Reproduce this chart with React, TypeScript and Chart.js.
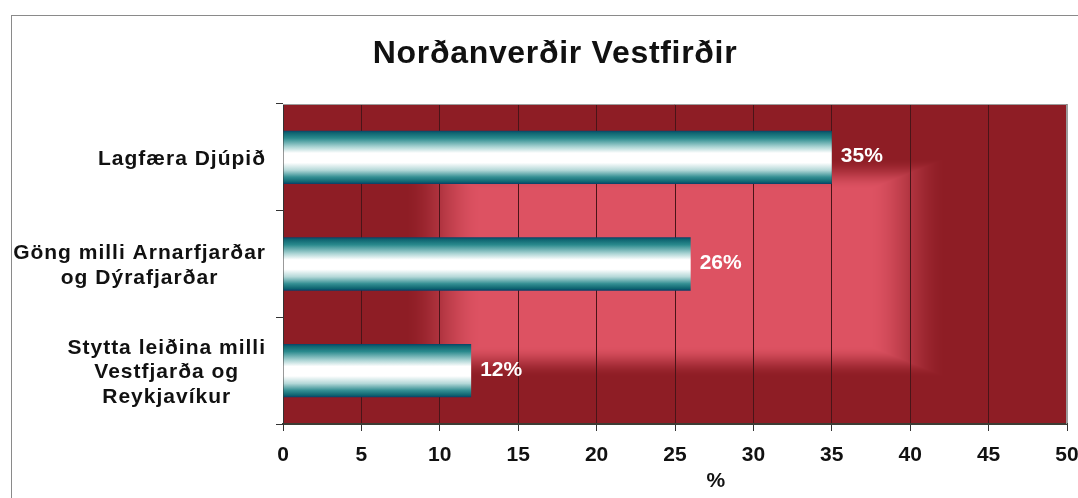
import { useEffect, useRef } from 'react';
import { Chart, registerables } from 'chart.js';

Chart.register(...registerables);

const TITLE = 'Norðanverðir Vestfirðir';
const categories: string[][] = [
  ['Lagfæra Djúpið'],
  ['Göng milli Arnarfjarðar', 'og Dýrafjarðar'],
  ['Stytta leiðina milli', 'Vestfjarða og', 'Reykjavíkur'],
];
const values: number[] = [35, 26, 12];
const valueLabels: string[] = ['35%', '26%', '12%'];
const X_MIN = 0;
const X_MAX = 50;
const X_STEP = 5;
const AXIS_TITLE = '%';
const AXIS_TITLE_VALUE = 27.6;

const FONT = '"Liberation Sans", Arial, sans-serif';
const BAR_PCT = 0.5;
const DARK = [142, 29, 37];
const LIGHT = [221, 82, 98];

function smoothstep(a: number, b: number, t: number) {
  const x = Math.min(1, Math.max(0, (t - a) / (b - a)));
  return x * x * (3 - 2 * x);
}

const backgroundPlugin = {
  id: 'plotBackground',
  beforeDraw(chart: any) {
    const { ctx, chartArea: a } = chart;
    if (!a) return;
    const w = Math.round(a.right - a.left);
    const h = Math.round(a.bottom - a.top);
    const off = document.createElement('canvas');
    off.width = w;
    off.height = h;
    const octx = off.getContext('2d')!;
    const img = octx.createImageData(w, h);
    const cx = 0.5 * w, cy = 0.51 * h, hw = 0.293 * w, hh = 0.29 * h;
    for (let y = 0; y < h; y++) {
      for (let x = 0; x < w; x++) {
        const dx = Math.abs(x - cx) / hw;
        const dy = Math.abs(y - cy) / hh;
        const t = Math.max(dx, dy);
        const f = smoothstep(0.84, 1.18, t);
        const i = (y * w + x) * 4;
        img.data[i] = LIGHT[0] * (1 - f) + DARK[0] * f;
        img.data[i + 1] = LIGHT[1] * (1 - f) + DARK[1] * f;
        img.data[i + 2] = LIGHT[2] * (1 - f) + DARK[2] * f;
        img.data[i + 3] = 255;
      }
    }
    octx.putImageData(img, 0, 0);
    ctx.save();
    ctx.drawImage(off, a.left, a.top);
    ctx.strokeStyle = '#8a8a8a';
    ctx.lineWidth = 1;
    ctx.strokeRect(11.5, 15.5, chart.width + 20, chart.height + 20);
    ctx.restore();
  },
  beforeDatasetsDraw(chart: any) {
    const { ctx, chartArea: a } = chart;
    ctx.save();
    ctx.strokeStyle = '#9c9c9c';
    ctx.lineWidth = 1;
    ctx.beginPath();
    ctx.moveTo(a.left, a.top + 0.5);
    ctx.lineTo(a.right - 0.5, a.top + 0.5);
    ctx.lineTo(a.right - 0.5, a.bottom);
    ctx.stroke();
    ctx.restore();
  },
  afterDatasetsDraw(chart: any) {
    const { ctx } = chart;
    const meta = chart.getDatasetMeta(0);
    ctx.save();
    ctx.fillStyle = '#ffffff';
    ctx.font = `bold 21px ${FONT}`;
    (ctx as any).letterSpacing = '0px';
    ctx.textAlign = 'left';
    ctx.textBaseline = 'alphabetic';
    meta.data.forEach((el: any, i: number) => {
      ctx.fillText(valueLabels[i], el.x + 9, el.y + 5);
    });
    ctx.restore();
  },
  afterDraw(chart: any) {
    const { ctx, chartArea: a } = chart;
    const ys = chart.scales.y;
    const xs = chart.scales.x;
    ctx.save();
    ctx.fillStyle = '#111111';
    ctx.font = `bold 32px ${FONT}`;
    (ctx as any).letterSpacing = '0.7px';
    ctx.textAlign = 'center';
    ctx.textBaseline = 'alphabetic';
    ctx.fillText(TITLE, 555, 63);
    ctx.font = `bold 21px ${FONT}`;
    (ctx as any).letterSpacing = '1px';
    const right = a.left - 17;
    const lineH = 24.5;
    categories.forEach((lines, i) => {
      const c = ys.getPixelForValue(i);
      const bw = Math.max(...lines.map((l) => ctx.measureText(l).width));
      const cxp = right - bw / 2;
      lines.forEach((l, j) => {
        const yy = c + (j - (lines.length - 1) / 2) * lineH + 7.5;
        ctx.fillText(l, cxp, yy);
      });
    });
    ctx.font = `bold 21px ${FONT}`;
    (ctx as any).letterSpacing = '0px';
    ctx.textBaseline = 'middle';
    ctx.fillText(AXIS_TITLE, xs.getPixelForValue(AXIS_TITLE_VALUE), 481);
    ctx.restore();
  },
};

function barGradient(c: any) {
  const chart = c.chart;
  const ys = chart.scales && chart.scales.y;
  if (!ys || !chart.chartArea) return '#ffffff';
  const center = ys.getPixelForValue(c.dataIndex);
  const half = (ys.height / categories.length) * BAR_PCT / 2;
  const g = chart.ctx.createLinearGradient(0, center - half, 0, center + half);
  g.addColorStop(0, '#0b4268');
  g.addColorStop(0.04, '#0e6470');
  g.addColorStop(0.14, '#2a8a8d');
  g.addColorStop(0.3, '#a8d2d2');
  g.addColorStop(0.42, '#ffffff');
  g.addColorStop(0.6, '#ffffff');
  g.addColorStop(0.74, '#b4d8d8');
  g.addColorStop(0.87, '#348f93');
  g.addColorStop(0.96, '#0e6470');
  g.addColorStop(1, '#0a3d68');
  return g;
}

export default function App() {
  const ref = useRef<HTMLCanvasElement | null>(null);
  useEffect(() => {
    if (!ref.current) return;
    const chart = new Chart(ref.current, {
      type: 'bar',
      data: {
        labels: categories,
        datasets: [
          {
            data: values,
            backgroundColor: barGradient,
            borderWidth: 0,
            categoryPercentage: 1,
            barPercentage: BAR_PCT,
          },
        ],
      },
      plugins: [backgroundPlugin],
      options: {
        indexAxis: 'y',
        animation: false,
        responsive: false,
        devicePixelRatio: 1,
        events: [],
        layout: { padding: { left: 0, top: 104, right: 11, bottom: 0 } },
        plugins: {
          legend: { display: false },
          tooltip: { enabled: false },
          title: { display: false },
        },
        scales: {
          x: {
            type: 'linear',
            min: X_MIN,
            max: X_MAX,
            ticks: {
              stepSize: X_STEP,
              color: '#111111',
              font: { family: FONT, size: 21, weight: 'bold' },
              padding: 12,
              maxRotation: 0,
            },
            grid: {
              color: (c: any) => (c.tick && c.tick.value === X_MAX ? '#9c9c9c' : '#4a1418'),
              lineWidth: 1,
              drawTicks: true,
              tickLength: 7,
              tickColor: '#333333',
            },
            border: { display: true, color: '#3c3c34', width: 2 },
            afterFit: (s: any) => {
              s.height = 74;
              s.paddingLeft = 0;
              s.paddingRight = 0;
            },
          },
          y: {
            type: 'category',
            ticks: { display: false },
            grid: {
              display: true,
              drawOnChartArea: false,
              drawTicks: true,
              tickLength: 7,
              offset: true,
              color: '#333333',
              tickColor: '#333333',
            },
            border: { display: true, color: '#333333', width: 1 },
            afterFit: (s: any) => {
              s.width = 283;
              s.paddingTop = 0;
              s.paddingBottom = 0;
            },
          },
        },
      } as any,
    });
    return () => chart.destroy();
  }, []);
  return (
    <div style={{ position: 'fixed', left: 0, top: 0, width: 1078, height: 498, background: '#ffffff' }}>
      <canvas ref={ref} width={1078} height={498} style={{ display: 'block' }} />
    </div>
  );
}
